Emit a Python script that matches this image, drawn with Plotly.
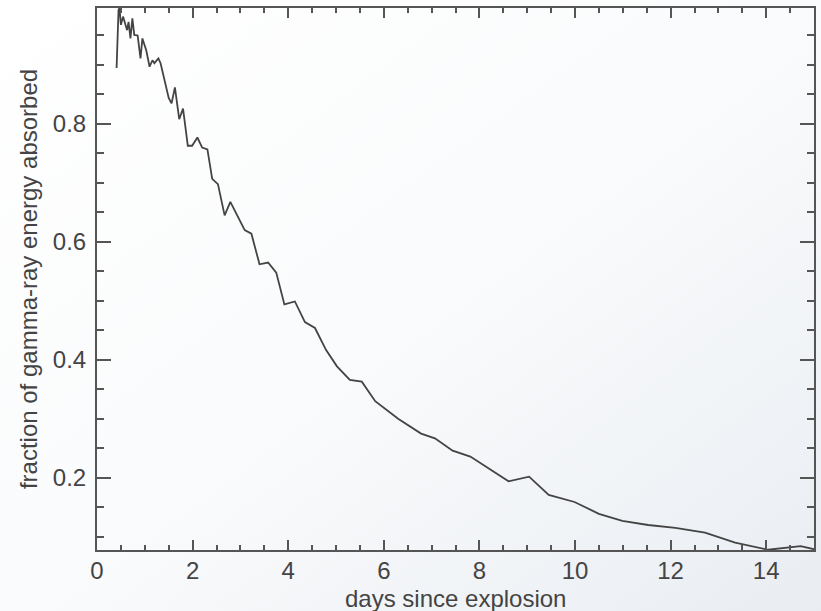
import base64
import plotly.graph_objects as go

days = [0.41, 0.45, 0.47, 0.50, 0.545, 0.59, 0.63, 0.66, 0.70, 0.74, 0.78, 0.85, 0.91, 0.95,
        1.03, 1.10, 1.16, 1.20, 1.285, 1.33, 1.43, 1.50, 1.56, 1.63, 1.72, 1.80, 1.90, 1.99,
        2.10, 2.20, 2.31, 2.41, 2.53, 2.67, 2.79, 2.94, 3.09, 3.23, 3.40, 3.58, 3.75, 3.92,
        4.14, 4.35, 4.56, 4.79, 5.02, 5.29, 5.54, 5.82, 6.30, 6.78, 7.07, 7.44, 7.81, 8.61,
        9.04, 9.45, 9.99, 10.50, 10.99, 11.53, 12.10, 12.72, 13.35, 14.04, 14.72, 15.05]
fraction = [0.895, 0.993, 0.997, 0.968, 0.982, 0.970, 0.959, 0.973, 0.945, 0.979, 0.951, 0.950,
            0.911, 0.945, 0.925, 0.897, 0.908, 0.903, 0.911, 0.903, 0.866, 0.844, 0.835, 0.862,
            0.808, 0.826, 0.763, 0.763, 0.777, 0.760, 0.757, 0.707, 0.698, 0.645, 0.668, 0.643,
            0.620, 0.614, 0.562, 0.565, 0.548, 0.494, 0.499, 0.464, 0.454, 0.417, 0.389, 0.366,
            0.363, 0.330, 0.300, 0.275, 0.267, 0.246, 0.236, 0.194, 0.202, 0.171, 0.159, 0.139,
            0.127, 0.120, 0.115, 0.107, 0.090, 0.078, 0.084, 0.078]

x_ticks = [0, 2, 4, 6, 8, 10, 12, 14]
y_ticks = [0.2, 0.4, 0.6, 0.8]
x_title = "days since explosion"
y_title = "fraction of gamma-ray energy absorbed"

W, H = 821, 611
ML, MR, MT, MB = 97, 7, 8, 61
pw, ph = W - ML - MR, H - MT - MB

svg = (f'<svg xmlns="http://www.w3.org/2000/svg" width="{W}" height="{H}">'
       '<defs><linearGradient id="g" x1="0" y1="0" x2="1" y2="1">'
       '<stop offset="0" stop-color="#ffffff"/><stop offset="0.5" stop-color="#fafbfc"/>'
       '<stop offset="1" stop-color="#e9edf2"/></linearGradient></defs>'
       f'<rect width="{W}" height="{H}" fill="url(#g)"/></svg>')
src = "data:image/svg+xml;base64," + base64.b64encode(svg.encode()).decode()

axis_color = "#555555"
text_color = "#444444"
font = dict(family="Liberation Sans, Arial, Helvetica, sans-serif", size=24, color=text_color)

fig = go.Figure(go.Scatter(x=days, y=fraction, mode="lines",
                           line=dict(color="#444444", width=1.8), hoverinfo="skip"))

fig.update_layout(
    width=W, height=H,
    margin=dict(l=ML, r=MR, t=MT, b=MB, autoexpand=False),
    paper_bgcolor="rgba(0,0,0,0)", plot_bgcolor="rgba(0,0,0,0)",
    font=font, showlegend=False,
    images=[dict(source=src, xref="paper", yref="paper",
                 x=-ML / pw, y=1 + MT / ph, sizex=W / pw, sizey=H / ph,
                 xanchor="left", yanchor="top", sizing="stretch", layer="below")],
    annotations=[dict(text=x_title, xref="paper", yref="paper", x=0.5, y=-MB / ph,
                      xanchor="center", yanchor="bottom", showarrow=False, font=font,
                      yshift=-3)],
)
fig.update_xaxes(
    range=[0, 15], tickvals=x_ticks, ticks="inside", ticklen=10, tickwidth=2,
    tickcolor=axis_color, showline=True, linecolor=axis_color, linewidth=2,
    mirror="allticks", showgrid=False, zeroline=False, ticklabelstandoff=-2,
    automargin=False,
    minor=dict(dtick=0.5, ticks="inside", ticklen=5, tickwidth=2, tickcolor=axis_color, showgrid=False),
)
fig.update_yaxes(
    range=[0.0776, 0.9966], tickvals=y_ticks, tickformat=".1f", ticks="inside", ticklen=14,
    tickwidth=2, tickcolor=axis_color, showline=True, linecolor=axis_color, linewidth=2,
    mirror="allticks", showgrid=False, zeroline=False, ticklabelstandoff=4,
    automargin=False,
    minor=dict(dtick=0.05, tick0=0, ticks="inside", ticklen=7, tickwidth=2, tickcolor=axis_color, showgrid=False),
    title=dict(text=y_title, standoff=8, font=font),
)

fig.write_html("out.html", config={"displayModeBar": False, "staticPlot": True},
               post_script="document.body.style.margin='0';document.body.style.padding='0';")
